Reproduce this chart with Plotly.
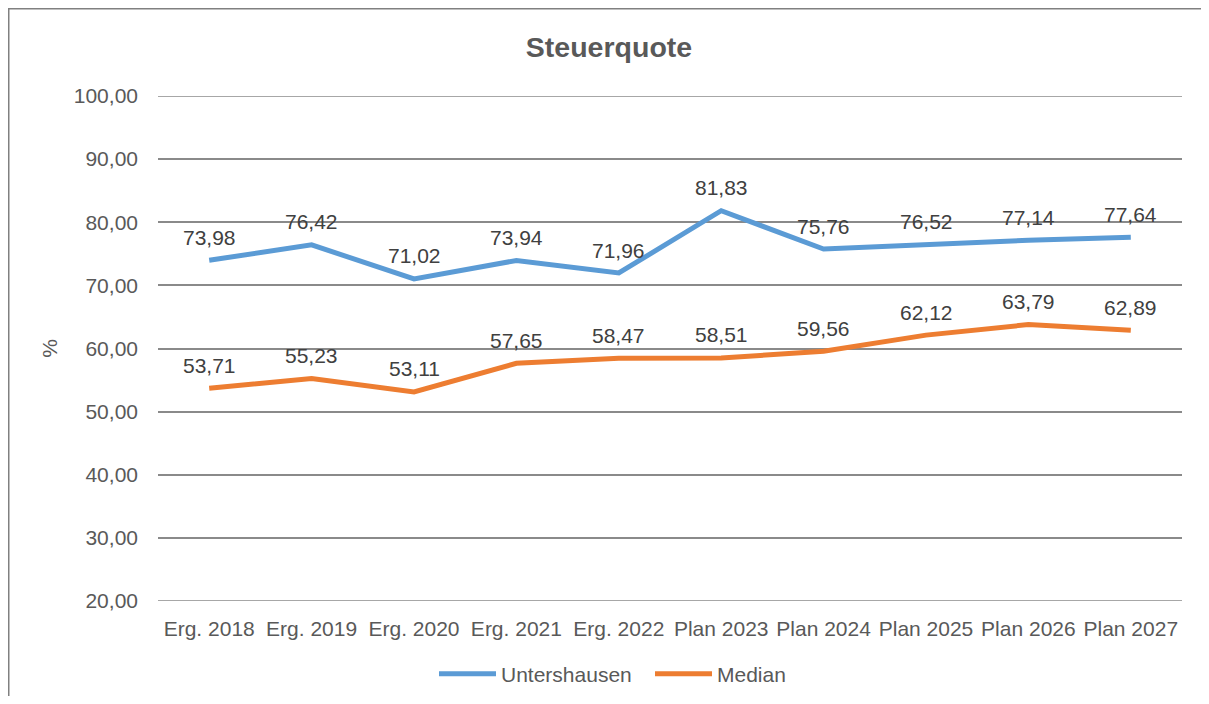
import plotly.graph_objects as go

categories = ["Erg. 2018", "Erg. 2019", "Erg. 2020", "Erg. 2021", "Erg. 2022",
              "Plan 2023", "Plan 2024", "Plan 2025", "Plan 2026", "Plan 2027"]
untershausen = [73.98, 76.42, 71.02, 73.94, 71.96, 81.83, 75.76, 76.52, 77.14, 77.64]
median = [53.71, 55.23, 53.11, 57.65, 58.47, 58.51, 59.56, 62.12, 63.79, 62.89]
y_ticks = [20, 30, 40, 50, 60, 70, 80, 90, 100]

font = "Liberation Sans, Arial, sans-serif"

def fmt(v):
    return f"{v:.2f}".replace(".", ",")

fig = go.Figure()
fig.add_trace(go.Scatter(x=categories, y=untershausen, mode="lines", name="Untershausen",
                         line=dict(color="#5B9BD5", width=5)))
fig.add_trace(go.Scatter(x=categories, y=median, mode="lines", name="Median",
                         line=dict(color="#ED7D31", width=5)))

# data labels above the points
for series in (untershausen, median):
    for c, v in zip(categories, series):
        fig.add_annotation(x=c, y=v, text=fmt(v), showarrow=False, yshift=23,
                           font=dict(family=font, size=21, color="#404040"))

# plotly skips the grid lines at the range ends, draw those two by hand
for yv in (y_ticks[0], y_ticks[-1]):
    fig.add_hline(y=yv, line=dict(color="#8a8a8a", width=1.5), layer="below")

# chart border (only left and top visible in the reference)
fig.add_shape(type="rect", xref="paper", yref="paper",
              x0=-150 / 1024, x1=80 / 1024 + 1, y0=-0.5, y1=1 + 88 / 505,
              line=dict(color="#808080", width=3))

fig.update_layout(
    width=1193, height=688,
    margin=dict(l=150, r=19, t=88, b=95),
    paper_bgcolor="white", plot_bgcolor="white",
    separators=",.",
    title=dict(text="<b>Steuerquote</b>", x=601 / 1193, xanchor="center", y=1 - 39 / 688, yanchor="middle",
               font=dict(family=font, size=28.5, color="#595959")),
    font=dict(family=font, size=21, color="#595959"),
    xaxis=dict(range=[-0.5, 9.5], showgrid=False, showline=False, ticks="", automargin=False,
               ticklabelstandoff=13, tickfont=dict(size=21, color="#595959")),
    yaxis=dict(range=[20, 100], tickvals=y_ticks, tickformat=".2f", showgrid=True,
               gridcolor="#8a8a8a", gridwidth=1.5, zeroline=False, showline=False, automargin=False,
               ticks="", ticklen=0, ticklabelstandoff=19, tickfont=dict(size=21, color="#595959"),
               title=dict(text="%", font=dict(size=21, color="#595959"), standoff=10)),
    showlegend=True,
    legend=dict(orientation="h", xref="container", yref="container",
                x=642 / 1193, xanchor="center", y=22 / 688, yanchor="middle",
                itemwidth=57, entrywidth=144, font=dict(size=21, color="#595959")),
)

fig.write_html("out.html")
